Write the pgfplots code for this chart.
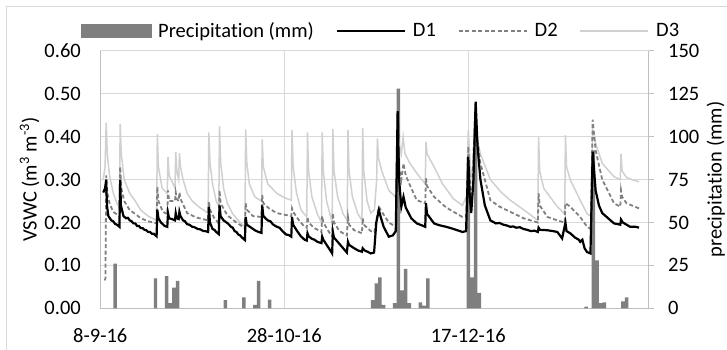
\documentclass[border=0pt]{standalone}
\usepackage{fontspec}
\setmainfont{Carlito}[Ligatures=NoCommon]
\usepackage{pgfplots}
\pgfplotsset{compat=1.18}
\usepackage{pgfplotstable}

\definecolor{gridc}{HTML}{D9D9D9}
\definecolor{axc}{HTML}{BFBFBF}
\definecolor{barc}{HTML}{7F7F7F}
\definecolor{dthree}{HTML}{D0D0D0}
\definecolor{dtwo}{HTML}{808080}

\pgfplotsset{
  lineleg/.style={legend image code/.code={\draw[##1] (0bp,0bp) -- (68bp,0bp);}},
  barleg/.style={legend image code/.code={\fill[barc] (0bp,-6.5bp) rectangle (70bp,6.5bp);}},
}

\pgfplotstableread[row sep=\\]{
day mm \\
4 26 \\ 15 17.5 \\ 18 18.7 \\ 19 3 \\ 20 12 \\ 21 16 \\
34 4.7 \\ 39 6.4 \\ 42 2 \\ 43 16 \\ 46 5 \\
74 4.7 \\ 75 14.6 \\ 76 18 \\ 77 2 \\ 80 3 \\ 81 128 \\ 82 10.5 \\ 83 23 \\ 84 3 \\
87 3.5 \\ 88 1.5 \\ 89 17.5 \\
100 88 \\ 101 18 \\ 102 105 \\ 103 9 \\
132 1 \\ 134 92 \\ 135 28 \\ 136 3 \\ 137 3.5 \\ 142 4 \\ 143 6.4 \\
}\precip

\pgfplotstableread[row sep=\\]{
t v \\
0.8 0.30 \\ 1.3 0.33 \\ 1.6 0.433 \\ 1.9 0.36 \\ 2.5 0.31 \\ 3.5 0.27 \\ 4.5 0.245 \\ 5.2 0.235 \\
5.4 0.43 \\ 5.7 0.36 \\ 6.5 0.30 \\ 8 0.268 \\ 9.5 0.25 \\ 11 0.229 \\ 13 0.215 \\ 15.3 0.205 \\
15.5 0.406 \\ 15.8 0.33 \\ 16.8 0.28 \\ 18.2 0.268 \\ 18.4 0.353 \\ 18.7 0.31 \\ 20.3 0.28 \\
20.5 0.365 \\ 20.8 0.32 \\ 21.3 0.30 \\ 21.5 0.362 \\ 21.8 0.33 \\ 22.5 0.30 \\ 23.6 0.268 \\
25 0.25 \\ 27 0.235 \\ 29.3 0.222 \\ 29.5 0.41 \\ 29.8 0.34 \\ 30.5 0.29 \\ 31.5 0.25 \\ 32.2 0.237 \\
32.4 0.425 \\ 32.7 0.34 \\ 33.5 0.28 \\ 34.5 0.245 \\ 36 0.22 \\ 38 0.20 \\ 39.3 0.19 \\
39.5 0.417 \\ 39.8 0.34 \\ 40.5 0.29 \\ 42 0.26 \\ 43.8 0.25 \\ 44 0.394 \\ 44.3 0.33 \\ 45.5 0.29 \\
48 0.268 \\ 50 0.258 \\ 51.9 0.252 \\ 52.1 0.416 \\ 52.4 0.33 \\ 53.3 0.27 \\ 54.5 0.23 \\ 56.1 0.213 \\
56.3 0.41 \\ 56.6 0.32 \\ 57.5 0.26 \\ 59 0.22 \\ 60.1 0.20 \\ 60.3 0.41 \\ 60.6 0.32 \\ 61.5 0.25 \\
63.0 0.20 \\ 63.2 0.418 \\ 63.5 0.32 \\ 64.5 0.26 \\ 66 0.22 \\ 67.1 0.205 \\ 67.3 0.416 \\ 67.6 0.32 \\
68.5 0.26 \\ 70 0.22 \\ 71.1 0.205 \\ 71.3 0.42 \\ 71.6 0.32 \\ 72.5 0.25 \\ 73.5 0.222 \\ 74.5 0.23 \\
75.1 0.30 \\ 75.3 0.396 \\ 75.6 0.35 \\ 76.5 0.32 \\ 78.4 0.275 \\ 80.2 0.26 \\ 80.8 0.42 \\ 81.3 0.38 \\
81.8 0.36 \\ 82.3 0.40 \\ 82.8 0.36 \\ 84 0.34 \\ 86 0.315 \\ 88.3 0.29 \\ 88.5 0.388 \\ 88.8 0.36 \\
90.7 0.33 \\ 93 0.29 \\ 96 0.255 \\ 98.4 0.24 \\ 99.5 0.26 \\ 100 0.416 \\ 100.5 0.33 \\ 101 0.30 \\
101.8 0.44 \\ 102.3 0.40 \\ 103.3 0.36 \\ 106 0.30 \\ 109 0.27 \\ 111.4 0.252 \\ 115 0.23 \\ 118.9 0.205 \\
119.1 0.40 \\ 119.4 0.32 \\ 120.5 0.28 \\ 121.5 0.268 \\ 124.2 0.237 \\ 126.2 0.22 \\ 126.4 0.404 \\
126.7 0.33 \\ 127.7 0.30 \\ 130.4 0.252 \\ 132.3 0.22 \\ 133.3 0.215 \\ 133.8 0.416 \\ 134.6 0.385 \\
136.4 0.338 \\ 139.6 0.307 \\ 141.3 0.30 \\ 141.5 0.36 \\ 141.8 0.32 \\ 143 0.305 \\ 144.5 0.30 \\ 146.4 0.295 \\
}\dthreetab

\pgfplotstableread[row sep=\\]{
t v \\
1.2 0.065 \\ 1.4 0.07 \\ 1.6 0.31 \\ 1.9 0.27 \\ 2.5 0.245 \\ 3.5 0.225 \\ 5.2 0.215 \\
5.4 0.33 \\ 5.7 0.28 \\ 6.5 0.25 \\ 8 0.229 \\ 9.5 0.22 \\ 11 0.21 \\ 13 0.203 \\ 15.3 0.198 \\
15.5 0.283 \\ 15.8 0.25 \\ 17 0.225 \\ 18.2 0.22 \\ 18.4 0.275 \\ 18.7 0.25 \\ 20.3 0.25 \\
20.5 0.27 \\ 20.8 0.255 \\ 21.3 0.25 \\ 21.5 0.27 \\ 21.8 0.255 \\ 23.6 0.222 \\ 26 0.212 \\
29.3 0.205 \\ 29.5 0.25 \\ 29.8 0.23 \\ 31 0.21 \\ 32.2 0.198 \\ 32.4 0.275 \\ 32.7 0.245 \\
34.5 0.217 \\ 37 0.20 \\ 39.3 0.187 \\ 39.5 0.245 \\ 39.8 0.23 \\ 41.5 0.215 \\ 43.8 0.213 \\
44 0.264 \\ 44.3 0.245 \\ 46 0.232 \\ 48 0.222 \\ 51.9 0.215 \\ 52.1 0.233 \\ 52.4 0.225 \\
54 0.205 \\ 55.5 0.19 \\ 56.1 0.188 \\ 56.3 0.213 \\ 56.6 0.20 \\ 58 0.188 \\ 60.1 0.178 \\
60.3 0.215 \\ 60.6 0.20 \\ 62 0.18 \\ 63 0.167 \\ 63.2 0.222 \\ 63.5 0.20 \\ 65 0.18 \\ 67 0.17 \\
67.3 0.213 \\ 67.6 0.195 \\ 69 0.182 \\ 71.1 0.175 \\ 71.3 0.21 \\ 71.6 0.195 \\ 73.5 0.18 \\
74.5 0.178 \\ 75.3 0.22 \\ 75.7 0.237 \\ 76.5 0.225 \\ 78.4 0.20 \\ 80.3 0.19 \\ 80.8 0.42 \\
81.2 0.33 \\ 81.8 0.30 \\ 82.4 0.338 \\ 83 0.31 \\ 84.5 0.28 \\ 86 0.252 \\ 88.3 0.245 \\
88.5 0.303 \\ 88.8 0.285 \\ 90.7 0.26 \\ 94 0.235 \\ 98.4 0.213 \\ 99.5 0.215 \\ 100 0.377 \\
100.5 0.28 \\ 101 0.25 \\ 101.9 0.47 \\ 102.4 0.40 \\ 103.3 0.338 \\ 106 0.252 \\ 108.5 0.237 \\
111.4 0.225 \\ 115 0.21 \\ 118.9 0.20 \\ 119.1 0.268 \\ 119.4 0.24 \\ 121.5 0.213 \\ 124.2 0.205 \\
126.2 0.20 \\ 126.4 0.245 \\ 127.7 0.237 \\ 130.4 0.213 \\ 132.3 0.19 \\ 133.3 0.185 \\ 133.8 0.44 \\
134.6 0.369 \\ 136.4 0.30 \\ 139.6 0.245 \\ 141.3 0.237 \\ 141.5 0.275 \\ 141.8 0.26 \\ 143 0.245 \\
146.4 0.233 \\
}\dtwotab

\pgfplotstableread[row sep=\\]{
t v \\
0.8 0.27 \\ 1.3 0.28 \\ 1.6 0.30 \\ 1.8 0.24 \\ 2.2 0.215 \\ 3 0.205 \\ 3.5 0.203 \\ 4 0.197 \\ 4.5 0.195 \\ 5.2 0.19 \\
5.4 0.30 \\ 5.6 0.24 \\ 6.3 0.215 \\ 7 0.21 \\ 7.5 0.211 \\ 8 0.205 \\ 8.5 0.203 \\ 9 0.198 \\ 9.5 0.198 \\ 10 0.192 \\
10.5 0.192 \\ 11 0.187 \\ 11.5 0.187 \\ 12 0.183 \\ 12.5 0.182 \\ 13 0.178 \\ 13.5 0.178 \\ 14 0.174 \\ 14.5 0.174 \\
15.3 0.168 \\ 15.5 0.23 \\ 15.8 0.21 \\ 16.5 0.20 \\
17.5 0.192 \\ 18.2 0.19 \\ 18.4 0.222 \\ 18.7 0.21 \\ 19.5 0.208 \\ 20.3 0.205 \\ 20.5 0.222 \\
20.8 0.21 \\ 21.3 0.208 \\ 21.5 0.225 \\ 21.8 0.215 \\ 22.5 0.205 \\ 23 0.203 \\ 23.6 0.196 \\ 24.2 0.195 \\ 25 0.19 \\
25.6 0.189 \\ 26.5 0.185 \\ 27.2 0.184 \\ 28 0.18 \\ 28.6 0.180 \\ 29.3 0.178 \\ 29.5 0.237 \\ 29.8 0.20 \\ 30.5 0.185 \\ 31 0.183 \\ 31.5 0.178 \\
32.2 0.173 \\ 32.4 0.24 \\ 32.7 0.215 \\ 33.5 0.205 \\ 34.5 0.199 \\ 35 0.195 \\ 35.5 0.19 \\ 36 0.188 \\ 36.5 0.18 \\
37 0.178 \\ 37.5 0.172 \\ 38 0.170 \\ 38.5 0.165 \\ 39.3 0.159 \\ 39.5 0.213 \\ 39.8 0.195 \\ 41 0.188 \\ 42 0.182 \\
43 0.178 \\ 43.8 0.176 \\ 44 0.24 \\ 44.3 0.215 \\ 45.5 0.205 \\ 46.2 0.203 \\ 47 0.195 \\ 48 0.19 \\ 48.7 0.188 \\
49.5 0.18 \\ 50.5 0.172 \\ 51.2 0.171 \\ 51.9 0.167 \\ 52.1 0.213 \\ 52.4 0.195 \\ 53.5 0.18 \\ 54.5 0.168 \\
55.5 0.16 \\ 56.1 0.158 \\ 56.3 0.175 \\ 56.6 0.168 \\ 57.5 0.162 \\ 58.2 0.160 \\ 59 0.155 \\ 60.1 0.152 \\
60.3 0.167 \\ 60.6 0.16 \\ 61.5 0.148 \\ 62.5 0.135 \\ 63 0.128 \\ 63.2 0.178 \\ 63.5 0.165 \\
64.5 0.155 \\ 65.2 0.148 \\ 66 0.14 \\ 67 0.13 \\ 67.3 0.155 \\ 67.6 0.148 \\ 69 0.14 \\ 70 0.135 \\
71.1 0.132 \\ 71.3 0.14 \\ 71.8 0.135 \\ 72.6 0.132 \\ 73.5 0.128 \\ 74.4 0.13 \\ 75 0.2 \\
75.7 0.229 \\ 76.3 0.21 \\ 77 0.19 \\ 78.4 0.167 \\ 79.5 0.17 \\ 80.3 0.18 \\ 80.8 0.46 \\
81.2 0.30 \\ 81.8 0.237 \\ 82.4 0.26 \\ 83 0.235 \\ 84.5 0.21 \\ 86 0.198 \\ 87.5 0.193 \\
88.3 0.19 \\ 88.5 0.245 \\ 88.8 0.22 \\ 90.7 0.198 \\ 92 0.194 \\ 94 0.19 \\ 96 0.185 \\
98.4 0.178 \\ 99.4 0.18 \\ 100 0.353 \\ 100.4 0.26 \\ 100.8 0.222 \\ 101.4 0.30 \\ 102 0.482 \\
102.5 0.38 \\ 103.3 0.30 \\ 104.5 0.24 \\ 106 0.205 \\ 107.5 0.198 \\ 108.5 0.199 \\ 109.5 0.195 \\ 110.5 0.193 \\ 111.4 0.19 \\
112.2 0.191 \\ 113 0.188 \\ 114 0.189 \\ 115 0.185 \\ 116 0.183 \\ 117 0.18 \\ 118 0.181 \\ 118.9 0.178 \\ 119.1 0.188 \\ 119.5 0.183 \\ 121.5 0.182 \\
123 0.18 \\ 124.2 0.178 \\ 125.5 0.163 \\ 126.4 0.2 \\ 126.7 0.18 \\ 127.7 0.175 \\ 129 0.165 \\
130 0.16 \\ 130.4 0.155 \\ 131 0.16 \\ 131.6 0.14 \\ 132.3 0.131 \\ 133.2 0.128 \\ 133.8 0.365 \\
134.6 0.275 \\ 135.5 0.24 \\ 136.4 0.222 \\ 138 0.21 \\ 139.6 0.198 \\ 141.3 0.195 \\ 141.5 0.207 \\
142 0.2 \\ 143 0.195 \\ 144 0.19 \\ 145.5 0.19 \\ 146.4 0.188 \\
}\donetab

\begin{document}
\begin{tikzpicture}[font=\fontsize{20.5bp}{24bp}\selectfont]
\useasboundingbox (0,0) rectangle (727bp,350bp);
\draw[gridc, line width=1bp] (6.7bp,-20bp) -- (6.7bp,343.3bp) -- (760bp,343.3bp);

\begin{axis}[
  at={(100.3bp,41.7bp)}, anchor=south west,
  scale only axis, width=548.3bp, height=257.3bp,
  xmin=0, xmax=149, ymin=0, ymax=150,
  axis y line*=right, axis x line*=bottom,
  axis line style={axc, line width=1bp},
  xtick={0,50,100}, xticklabels={8-9-16,28-10-16,17-12-16},
  ytick={0,25,50,75,100,125,150},
  grid=major, major grid style={gridc, line width=1bp},
  major tick length=5bp,
  ytick style={axc, line width=1bp},
  xtick style={draw=none},
  ytick align=outside,
  xticklabel style={anchor=base, yshift=-33.7bp},
  yticklabel style={anchor=west, inner xsep=0pt, xshift=14.4bp},
  /pgf/number format/assume math mode=true,
  ylabel={precipitation (mm)},
  every axis y label/.style={at={(axis description cs:1.133,0.5)}, anchor=base, rotate=90},
]
\addplot[ybar, bar width=0.95, fill=barc, draw=none] table[x=day, y=mm] {\precip};
\end{axis}

\begin{axis}[
  at={(100.3bp,41.7bp)}, anchor=south west,
  scale only axis, width=548.3bp, height=257.3bp,
  xmin=0, xmax=149, ymin=0, ymax=0.6,
  axis y line*=left, axis x line=none,
  axis line style={axc, line width=1bp},
  ytick={0,0.1,0.2,0.3,0.4,0.5,0.6},
  major tick length=0pt,
  yticklabel style={anchor=east, inner xsep=0pt, xshift=-19.3bp,
    /pgf/number format/.cd, fixed, fixed zerofill, precision=2},
  /pgf/number format/assume math mode=true,
  ylabel={VSWC (m\textsuperscript{3} m\textsuperscript{-3})},
  every axis y label/.style={at={(axis description cs:-0.116,0.5)}, anchor=base, rotate=90},
  legend style={at={(axis description cs:0.512,1.078)}, anchor=center, draw=none, fill=none,
    legend columns=4,
    /tikz/every odd column/.append style={column sep=5bp},
    /tikz/every even column/.append style={column sep=20bp}},
]
\addlegendimage{barleg}
\addlegendentry{Precipitation (mm)}
\addlegendimage{lineleg, black, line width=2bp}
\addlegendentry{D1}
\addlegendimage{lineleg, dtwo, line width=1.8bp, dash pattern=on 4bp off 2.5bp}
\addlegendentry{D2}
\addlegendimage{lineleg, dthree, line width=1.5bp}
\addlegendentry{D3}
\addplot[forget plot, dthree, line width=1.5bp] table[x=t, y=v] {\dthreetab};
\addplot[forget plot, dtwo, line width=1.8bp, dash pattern=on 4bp off 2.5bp] table[x=t, y=v] {\dtwotab};
\addplot[forget plot, black, line width=2.2bp] table[x=t, y=v] {\donetab};
\end{axis}
\end{tikzpicture}
\end{document}
